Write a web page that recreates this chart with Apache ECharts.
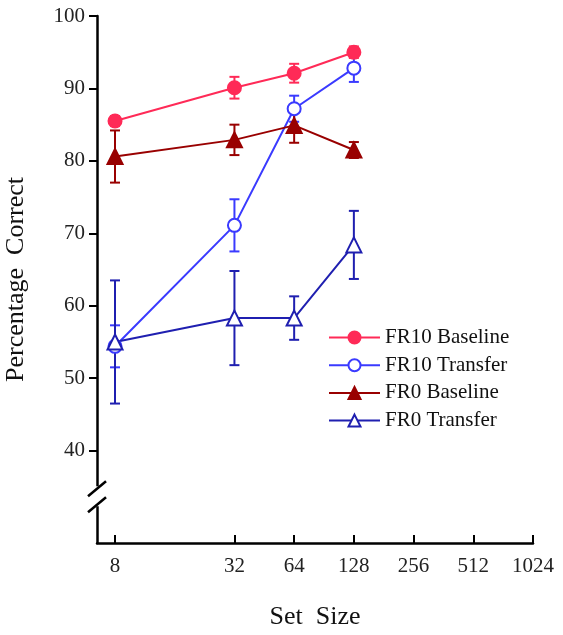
<!DOCTYPE html>
<html>
<head>
<meta charset="utf-8">
<script src="https://cdn.jsdelivr.net/npm/echarts@6/dist/echarts.min.js"></script>
<style>html,body{margin:0;padding:0;background:#fff;}#c{width:563px;height:635px;}</style>
</head>
<body>
<div id="c"></div>
<script>
var setSizes = [8, 32, 64, 128];
var xTickValues = [8, 32, 64, 128, 256, 512, 1024];
var yTickValues = [40, 50, 60, 70, 80, 90, 100];
var seriesNames = ['FR10 Baseline', 'FR10 Transfer', 'FR0 Baseline', 'FR0 Transfer'];
var fr10Baseline = [85.5, 90.1, 92.1, 95.0];
var fr10BaselineErr = [0.7, 1.5, 1.3, 0.8];
var fr10Transfer = [54.4, 71.1, 87.2, 92.8];
var fr10TransferErr = [2.9, 3.6, 1.8, 1.9];
var fr0Baseline = [80.6, 82.9, 84.9, 81.5];
var fr0BaselineErr = [3.6, 2.1, 2.4, 1.1];
var fr0Transfer = [55.0, 58.3, 58.3, 68.4];
var fr0TransferErr = [8.5, 6.5, 3.0, 4.7];

var colors = ['#ff2a57', '#3a3aff', '#990000', '#1f1fb0'];
var symbols = ['circle', 'emptyCircle', 'triangle', 'emptyTriangle'];
var means = [fr10Baseline, fr10Transfer, fr0Baseline, fr0Transfer];
var errs = [fr10BaselineErr, fr10TransferErr, fr0BaselineErr, fr0TransferErr];
var FONT = '"Liberation Serif", "Times New Roman", serif';

var chart = echarts.init(document.getElementById('c'), null, {renderer: 'canvas'});

var series = [];
means.forEach(function (m, i) {
  series.push({
    type: 'custom',
    name: seriesNames[i] + ' err',
    z: 1,
    silent: true,
    data: setSizes.map(function (s, j) { return [s, m[j] - errs[i][j], m[j] + errs[i][j]]; }),
    renderItem: function (params, api) {
      var lo = api.coord([api.value(0), api.value(1)]);
      var hi = api.coord([api.value(0), api.value(2)]);
      var hw = 5;
      var st = {stroke: colors[i], lineWidth: 2, fill: null};
      return {
        type: 'group',
        children: [
          {type: 'line', shape: {x1: lo[0], y1: lo[1], x2: hi[0], y2: hi[1]}, style: st},
          {type: 'line', shape: {x1: lo[0] - hw, y1: lo[1], x2: lo[0] + hw, y2: lo[1]}, style: st},
          {type: 'line', shape: {x1: hi[0] - hw, y1: hi[1], x2: hi[0] + hw, y2: hi[1]}, style: st}
        ]
      };
    }
  });
});
means.forEach(function (m, i) {
  series.push({
    type: 'line',
    name: seriesNames[i],
    z: 3,
    data: setSizes.map(function (s, j) { return [s, m[j]]; }),
    symbol: symbols[i],
    symbolSize: i < 2 ? 13 : 15,
    color: colors[i],
    lineStyle: {color: colors[i], width: 2},
    itemStyle: {color: colors[i], borderColor: colors[i], borderWidth: 2},
    emphasis: {disabled: true}
  });
});

chart.setOption({
  animation: false,
  backgroundColor: '#fff',
  grid: {left: 97, top: 16, right: 30, bottom: 92, containLabel: false, outerBoundsMode: 'none'},
  legend: {
    data: seriesNames,
    orient: 'vertical',
    left: 323,
    top: 322,
    itemWidth: 51,
    itemHeight: 15,
    itemGap: 6.7,
    textStyle: {fontFamily: FONT, fontSize: 21, color: '#111', lineHeight: 20},
    selectedMode: false
  },
  xAxis: {
    type: 'log',
    logBase: 2,
    min: 6.49,
    max: 1024,
    name: 'Set  Size',
    nameLocation: 'middle',
    nameGap: 61,
    nameTextStyle: {fontFamily: FONT, fontSize: 26, color: '#111'},
    axisLine: {show: true, lineStyle: {color: '#000', width: 2.5}},
    axisTick: {show: true, inside: true, length: 8, lineStyle: {color: '#000', width: 2}, customValues: xTickValues},
    axisLabel: {fontFamily: FONT, fontSize: 21, color: '#222', margin: 13, customValues: xTickValues,
      formatter: function (v) { return String(Math.round(v)); }},
    splitLine: {show: false},
    minorTick: {show: false}
  },
  yAxis: {
    type: 'value',
    min: 27.25,
    max: 100,
    name: 'Percentage  Correct',
    nameLocation: 'middle',
    nameGap: 68,
    nameTextStyle: {fontFamily: FONT, fontSize: 26, color: '#111'},
    axisLine: {show: true, lineStyle: {color: '#000', width: 2.5}},
    axisTick: {show: true, inside: false, length: 8, lineStyle: {color: '#000', width: 2}, customValues: yTickValues},
    axisLabel: {fontFamily: FONT, fontSize: 21, color: '#222', margin: 12, customValues: yTickValues},
    splitLine: {show: false}
  },
  series: series
});

// axis break marks
var pA = chart.convertToPixel({gridIndex: 0}, [6.49, 34.8]);
var pB = chart.convertToPixel({gridIndex: 0}, [6.49, 32.6]);
var ax = pA[0];
chart.setOption({
  graphic: [
    {type: 'rect', shape: {x: ax - 4, y: pA[1] - 2, width: 8, height: pB[1] - pA[1] + 4}, style: {fill: '#fff'}, z: 100},
    {type: 'line', shape: {x1: ax - 9, y1: pA[1] + 8, x2: ax + 9, y2: pA[1] - 7}, style: {stroke: '#000', lineWidth: 2.5}, z: 101},
    {type: 'line', shape: {x1: ax - 9, y1: pB[1] + 8, x2: ax + 9, y2: pB[1] - 7}, style: {stroke: '#000', lineWidth: 2.5}, z: 101}
  ]
});
</script>
</body>
</html>
